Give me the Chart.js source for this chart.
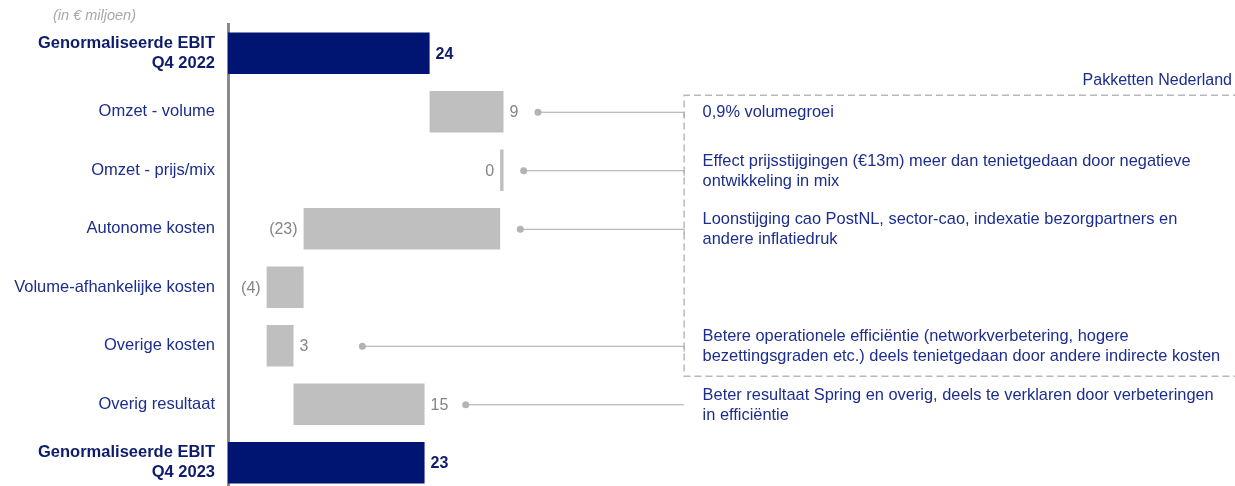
<!DOCTYPE html>
<html><head><meta charset="utf-8">
<script src="https://cdn.jsdelivr.net/npm/chart.js@4"></script>
<style>html,body{margin:0;padding:0;overflow:hidden;background:#fff}#wrap{position:relative;width:1235px;height:486px;overflow:hidden}#box{position:relative;width:1235px;height:492px}canvas{display:block}</style>
</head><body><div id="wrap"><div id="box"><canvas id="c"></canvas></div></div>
<script>
const categories = [["Genormaliseerde EBIT","Q4 2022"],"Omzet - volume","Omzet - prijs/mix","Autonome kosten","Volume-afhankelijke kosten","Overige kosten","Overig resultaat",["Genormaliseerde EBIT","Q4 2023"]];
const changes = [24.0, 8.8, -0.4, -23.4, -4.4, 3.2, 15.6, 23.4];
const isTotal = [true,false,false,false,false,false,false,true];
const valueLabels = ["24","9","0","(23)","(4)","3","15","23"];
const notes = [null,
  ["0,9% volumegroei"],
  ["Effect prijsstijgingen (€13m) meer dan tenietgedaan door negatieve","ontwikkeling in mix"],
  ["Loonstijging cao PostNL, sector-cao, indexatie bezorgpartners en","andere inflatiedruk"],
  null,
  ["Betere operationele efficiëntie (networkverbetering, hogere","bezettingsgraden etc.) deels tenietgedaan door andere indirecte kosten"],
  ["Beter resultaat Spring en overig, deels te verklaren door verbeteringen","in efficiëntie"],
  null];
const noteAnchor = [null, 36.9, 35.2, 34.8, null, 16.0, 28.3, null];
const boxTitle = "Pakketten Nederland";
const unitNote = "(in € miljoen)";

const FONT = '"Liberation Sans", Arial, sans-serif';
const NAVY = '#001571', NAVY_TXT = '#0d1c6c', BLUE_TXT = '#1c2d8e', GRAY_BAR = '#bfbfbf', GRAY_TXT = '#858585';

let run = 0;
const ranges = changes.map((v, i) => {
  if (isTotal[i]) { run = v; return [0, v]; }
  const s = run; run += v; return [s, run];
});

const extras = {
  id: 'extras',
  afterDraw(chart) {
    const ctx = chart.ctx, xS = chart.scales.x, yS = chart.scales.y;
    ctx.save();
    ranges.forEach((r, i) => {
      const y = yS.getPixelForValue(i);
      const lo = Math.min(r[0], r[1]), hi = Math.max(r[0], r[1]);
      const pos = isTotal[i] || changes[i] >= 0;
      ctx.font = (isTotal[i] ? 'bold ' : '') + '16px ' + FONT;
      ctx.fillStyle = isTotal[i] ? NAVY_TXT : GRAY_TXT;
      ctx.textBaseline = 'middle';
      if (pos) { ctx.textAlign = 'left'; ctx.fillText(valueLabels[i], xS.getPixelForValue(hi) + 6, y + 1); }
      else { ctx.textAlign = 'right'; ctx.fillText(valueLabels[i], xS.getPixelForValue(lo) - 6, y + 1); }
    });
    ctx.font = 'italic 14.5px ' + FONT;
    ctx.fillStyle = '#a8a8a8';
    ctx.textAlign = 'left';
    ctx.fillText(unitNote, 53, 16);
    const boxL = xS.getPixelForValue(54.3);
    const boxT = yS.getPixelForValue(0.72);
    const boxB = yS.getPixelForValue(5.52);
    const boxR = chart.width + 5;
    ctx.strokeStyle = '#b8b8b8';
    ctx.lineWidth = 1.5;
    ctx.setLineDash([7, 4]);
    ctx.beginPath();
    ctx.moveTo(boxR, boxT); ctx.lineTo(boxL, boxT); ctx.lineTo(boxL, boxB); ctx.lineTo(boxR, boxB);
    ctx.stroke();
    ctx.setLineDash([]);
    ctx.font = '16px ' + FONT;
    ctx.fillStyle = BLUE_TXT;
    ctx.textAlign = 'right';
    ctx.fillText(boxTitle, 1232, boxT - 15);
    const textX = xS.getPixelForValue(56.5);
    notes.forEach((n, i) => {
      if (!n) return;
      const y = yS.getPixelForValue(i);
      const dx = xS.getPixelForValue(noteAnchor[i]);
      ctx.strokeStyle = '#a9a9a9'; ctx.lineWidth = 1;
      ctx.beginPath(); ctx.moveTo(dx, y + 0.5); ctx.lineTo(boxL, y + 0.5);
      if (y < boxB) ctx.lineTo(boxL, y + 6);
      ctx.stroke();
      ctx.fillStyle = '#b3b3b3';
      ctx.beginPath(); ctx.arc(dx, y + 0.5, 3.5, 0, Math.PI * 2); ctx.fill();
      ctx.fillStyle = BLUE_TXT; ctx.textAlign = 'left'; ctx.font = '16.4px ' + FONT;
      const lh = 20, y0 = y - (n.length - 1) * lh / 2;
      n.forEach((t, k) => ctx.fillText(t, textX, y0 + k * lh + 1));
    });
    ctx.restore();
  }
};

new Chart(document.getElementById('c'), {
  type: 'bar',
  data: {
    labels: categories,
    datasets: [{
      data: ranges,
      backgroundColor: isTotal.map(t => t ? NAVY : GRAY_BAR),
      borderWidth: 0,
      barPercentage: 0.71,
      categoryPercentage: 1.0,
      borderSkipped: false
    }]
  },
  options: {
    indexAxis: 'y',
    responsive: true,
    maintainAspectRatio: false,
    devicePixelRatio: 1,
    animation: false,
    layout: { padding: { top: 24, left: 0, right: 0, bottom: 0 } },
    plugins: { legend: { display: false }, tooltip: { enabled: false } },
    scales: {
      x: { display: false, min: 0, max: 119.88 },
      y: {
        afterFit(s) { s.width = 228; s.paddingTop = 0; s.paddingBottom = 0; },
        grid: { display: false, drawTicks: false },
        border: { display: true, color: '#8a8a8a', width: 3 },
        ticks: {
          padding: 13,
          autoSkip: false,
          color: (c) => (c.index === 0 || c.index === 7) ? NAVY_TXT : BLUE_TXT,
          font: (c) => ({ family: FONT, size: 16.5, weight: (c.index === 0 || c.index === 7) ? 'bold' : 'normal', lineHeight: 1.2 })
        }
      }
    }
  },
  plugins: [extras]
});
</script></body></html>
